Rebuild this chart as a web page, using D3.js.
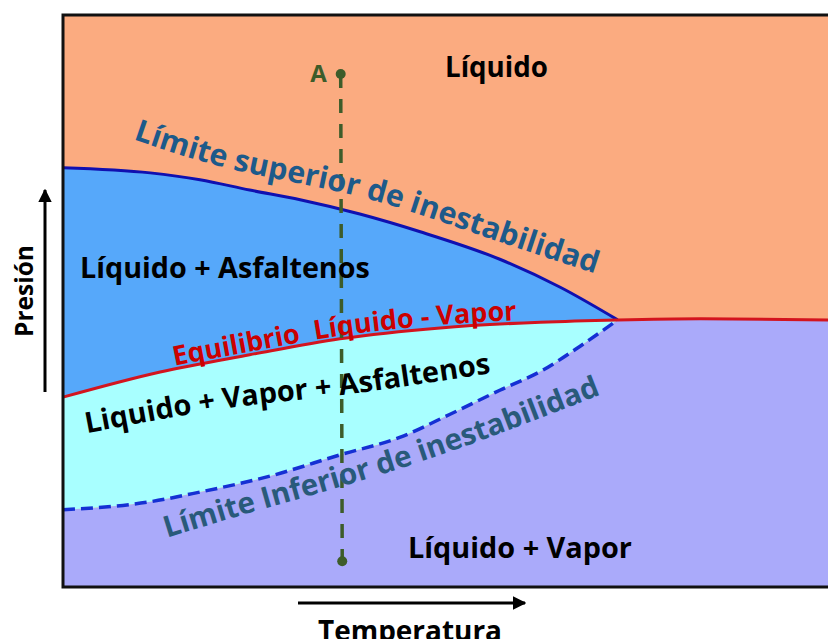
<!DOCTYPE html>
<html>
<head>
<meta charset="utf-8">
<script src="https://cdn.jsdelivr.net/npm/d3@7"></script>
<style>
  body { margin: 0; background: #fff; }
  text { font-family: "Open Sans", sans-serif; font-weight: 700; }
</style>
</head>
<body>
<div id="chart"></div>
<script>
// envolvente de fases, [temperatura, presion] en unidades relativas 0-100
var upperLimit = [[0, 73.3], [11.4, 72.4], [17.9, 71.2], [24.4, 69.4], [31.0, 67.7],
  [38.8, 65.2], [46.7, 62.1], [57.1, 57.3], [65.0, 52.4], [72.5, 46.7]];
var vleCurve = [[0, 33.2], [12.7, 37.6], [24.4, 40.6], [36.2, 43.4], [49.3, 45.3],
  [62.4, 46.3], [72.5, 46.7], [83.3, 46.9], [100, 46.7]];
var lowerLimit = [[0, 13.5], [11.4, 14.9], [17.9, 16.6], [27.1, 19.4], [36.2, 23.1],
  [44.1, 26.2], [50.6, 30.2], [57.1, 34.4], [62.7, 37.9], [67.6, 42.1], [72.5, 46.7]];
// trayectoria isotermica desde el punto A
var pathA = [[36.3, 89.7], [36.5, 4.5]];
var pathLabel = "A";

var margin = {top: 15, right: 0, bottom: 52, left: 63},
  width = 828 - margin.left - margin.right,
  height = 639 - margin.top - margin.bottom;

var root = d3.select("#chart")
  .append("svg")
  .attr("width", 828)
  .attr("height", 639);

var defs = root.append("defs");
defs.append("marker")
  .attr("id", "arrow")
  .attr("viewBox", "0 0 10 10")
  .attr("refX", 9).attr("refY", 5)
  .attr("markerWidth", 4.5).attr("markerHeight", 4.5)
  .attr("markerUnits", "strokeWidth")
  .attr("orient", "auto")
  .append("path")
  .attr("d", "M0,0 L10,5 L0,10 Z")
  .attr("fill", "#000");

var svg = root.append("g")
  .attr("transform", "translate(" + margin.left + "," + margin.top + ")");

var x = d3.scaleLinear().domain([0, 100]).range([0, width]);
var y = d3.scaleLinear().domain([0, 100]).range([height, 0]);

var line = d3.line()
  .x(function (d) { return x(d[0]); })
  .y(function (d) { return y(d[1]); })
  .curve(d3.curveMonotoneX);

function cont(p) { return "L" + p.slice(1); }   // join a second curve onto a path

var onset = vleCurve.findIndex(function (d) { return d[0] >= upperLimit[upperLimit.length - 1][0]; });
var vleLeft = vleCurve.slice(0, onset + 1),
  vleRight = vleCurve.slice(onset);

// regions
svg.append("rect")
  .attr("width", width).attr("height", height)
  .attr("fill", "#fbab80");

svg.append("path")
  .attr("d", "M" + x(0) + "," + y(0) + cont(line(lowerLimit)) + cont(line(vleRight)) +
    "L" + x(100) + "," + y(0) + "Z")
  .attr("fill", "#aaaafa");

svg.append("path")
  .attr("d", line(upperLimit) + cont(line(vleLeft.slice().reverse())) + "Z")
  .attr("fill", "#56a8fa");

svg.append("path")
  .attr("d", line(vleLeft) + cont(line(lowerLimit.slice().reverse())) + "Z")
  .attr("fill", "#a8ffff");

// boundaries
svg.append("path")
  .attr("d", line(lowerLimit))
  .attr("fill", "none")
  .attr("stroke", "#1530d4")
  .attr("stroke-width", 3.5)
  .attr("stroke-dasharray", "12,6");

svg.append("path")
  .attr("d", line(upperLimit))
  .attr("fill", "none")
  .attr("stroke", "#1010b0")
  .attr("stroke-width", 3);

var vlePath = svg.append("path")
  .attr("d", line(vleCurve))
  .attr("fill", "none")
  .attr("stroke", "#d3141e")
  .attr("stroke-width", 3);

// frame (right side is cut off in the original)
svg.append("path")
  .attr("d", "M" + width + ",0 H0 V" + height + " H" + width)
  .attr("fill", "none")
  .attr("stroke", "#111")
  .attr("stroke-width", 3);

// fit a label's font size so that it spans the given length
function fit(t, target) {
  var fs = +t.attr("font-size");
  var len = t.node().getComputedTextLength();
  t.attr("font-size", fs * target / len);
  return t;
}

function lengthAtX(node, px) {
  var lo = 0, hi = node.getTotalLength();
  for (var i = 0; i < 30; i++) {
    var mid = (lo + hi) / 2;
    if (node.getPointAtLength(mid).x < px) lo = mid; else hi = mid;
  }
  return lo;
}

function curvedLabel(id, pts, str, color) {
  var p = defs.append("path").attr("id", id)
    .attr("d", d3.line().x(function (d) { return x(d[0]) + margin.left; })
      .y(function (d) { return y(d[1]) + margin.top; }).curve(d3.curveNatural)(pts));
  var t = root.append("text").attr("font-size", 24).attr("fill", color);
  t.append("textPath").attr("href", "#" + id).text(str);
  fit(t, p.node().getTotalLength());
  return t;
}

// upper / lower instability labels, placed along their own baselines
curvedLabel("lblUpper", [[9.15, 78.3], [22.5, 72.9], [38.8, 68.2], [54.5, 61.5], [69.6, 54.8]],
  "Límite superior de inestabilidad", "#1d5a8a");
curvedLabel("lblLower", [[13.6, 8.6], [25.8, 13.5], [46.3, 21.7], [70.4, 33.7]],
  "Límite Inferior de inestabilidad", "#295a7a");
curvedLabel("lblLVA", [[3.1, 26.9], [21.8, 31.3], [36.6, 33.6], [56.0, 37.4]],
  "Liquido + Vapor + Asfaltenos", "#000");

// vapour-liquid equilibrium label sits on the red curve
defs.append("path").attr("id", "lblVle")
  .attr("d", line(vleLeft))
  .attr("transform", "translate(" + margin.left + "," + margin.top + ")");
var vleNode = vlePath.node();
var s0 = lengthAtX(vleNode, 175 - margin.left), s1 = lengthAtX(vleNode, 517 - margin.left);
var vleText = root.append("text")
  .attr("font-size", 22)
  .attr("fill", "#cc0000")
  .attr("dy", -3);
vleText.append("textPath")
  .attr("href", "#lblVle")
  .attr("startOffset", s0)
  .style("white-space", "pre")
  .text("Equilibrio  Líquido - Vapor");
fit(vleText, s1 - s0);

// isothermal path
svg.append("line")
  .attr("x1", x(pathA[0][0])).attr("y1", y(pathA[0][1]))
  .attr("x2", x(pathA[1][0])).attr("y2", y(pathA[1][1]))
  .attr("stroke", "#3d5c2a")
  .attr("stroke-width", 3.5)
  .attr("stroke-dasharray", "14,11");

svg.selectAll("circle.pt")
  .data(pathA)
  .enter()
  .append("circle")
  .attr("class", "pt")
  .attr("cx", function (d) { return x(d[0]); })
  .attr("cy", function (d) { return y(d[1]); })
  .attr("r", 5)
  .attr("fill", "#3d5c2a");

svg.append("text")
  .attr("x", x(pathA[0][0]) - 14)
  .attr("y", y(pathA[0][1]) + 8)
  .attr("text-anchor", "end")
  .attr("font-size", 24)
  .attr("fill", "#3d5c2a")
  .text(pathLabel);

// region names
var regions = [
  {name: "Líquido", x: 445, y: 77, w: 103},
  {name: "Líquido + Asfaltenos", x: 80, y: 278, w: 290},
  {name: "Líquido + Vapor", x: 408, y: 558, w: 224}
];
regions.forEach(function (r) {
  fit(root.append("text")
    .attr("x", r.x).attr("y", r.y)
    .attr("font-size", 26)
    .attr("fill", "#000")
    .text(r.name), r.w);
});

// axis arrows and titles
root.append("line")
  .attr("x1", 45).attr("y1", 392).attr("x2", 45).attr("y2", 190)
  .attr("stroke", "#000").attr("stroke-width", 3)
  .attr("marker-end", "url(#arrow)");
fit(root.append("text")
  .attr("transform", "translate(33,291) rotate(-90)")
  .attr("text-anchor", "middle")
  .attr("font-size", 26)
  .text("Presión"), 92);

root.append("line")
  .attr("x1", 298).attr("y1", 603).attr("x2", 525).attr("y2", 603)
  .attr("stroke", "#000").attr("stroke-width", 3)
  .attr("marker-end", "url(#arrow)");
fit(root.append("text")
  .attr("x", 410).attr("y", 641)
  .attr("text-anchor", "middle")
  .attr("font-size", 26)
  .text("Temperatura"), 184);
</script>
</body>
</html>
